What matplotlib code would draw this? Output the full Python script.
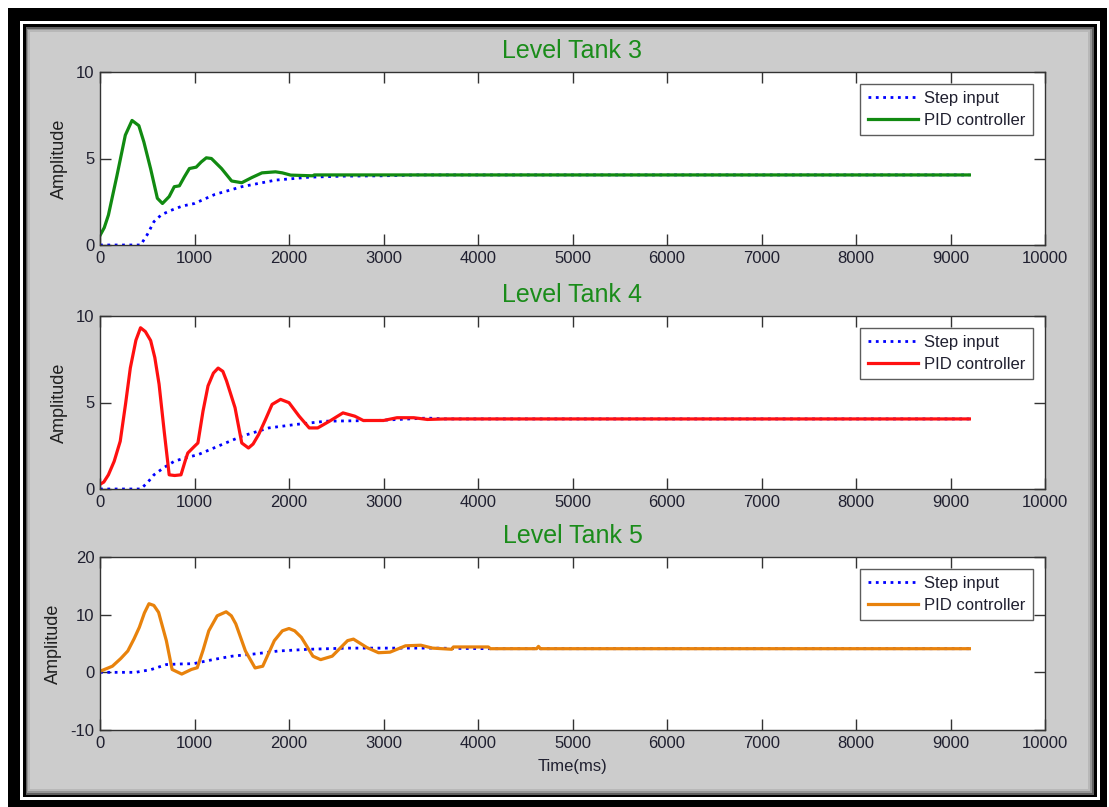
import matplotlib
matplotlib.use('Agg')
import matplotlib.pyplot as plt
from matplotlib.patches import Rectangle
from matplotlib import font_manager

# Level Tank 3 (green)
t3_time = [0, 45, 89, 179, 268, 339, 411, 464, 536, 607, 661, 732, 786, 840, 893, 946, 1018, 1071,
           1125, 1179, 1286, 1393, 1500, 1607, 1714, 1857, 1929, 2018, 2250, 2268, 9200]
t3_pid = [0.55, 1.0, 1.73, 4.0, 6.35, 7.2, 6.9, 5.96, 4.4, 2.7, 2.4, 2.8, 3.37, 3.42, 3.94, 4.42, 4.5, 4.8,
          5.04, 5.0, 4.42, 3.7, 3.6, 3.9, 4.17, 4.23, 4.17, 4.04, 4.0, 4.05, 4.05]
t3_step_time = [0, 430, 500, 571, 650, 750, 870, 1000, 1214, 1500, 1857, 2214, 2571, 3000, 3350, 9200]
t3_step = [0, 0, 0.6, 1.35, 1.75, 2.0, 2.25, 2.4, 2.92, 3.37, 3.75, 3.92, 3.98, 4.0, 4.05, 4.05]

# Level Tank 4 (red)
t4_time = [0, 40, 89, 150, 214, 270, 321, 380, 429, 480, 536, 580, 625, 680, 732, 790, 857, 900, 929, 1000,
           1036, 1090, 1143, 1200, 1250, 1300, 1339, 1429, 1500, 1571, 1620, 1679, 1750, 1821, 1911, 2000,
           2107, 2214, 2304, 2429, 2571, 2696, 2786, 3000, 3143, 3321, 3464, 3650, 9200]
t4_pid = [0.27, 0.4, 0.82, 1.6, 2.76, 4.9, 7.0, 8.6, 9.32, 9.1, 8.58, 7.6, 6.06, 3.3, 0.82, 0.78, 0.82, 1.6,
          2.08, 2.47, 2.66, 4.5, 5.96, 6.7, 6.99, 6.8, 6.25, 4.7, 2.66, 2.37, 2.6, 3.15, 4.0, 4.89, 5.18, 4.99,
          4.21, 3.53, 3.53, 3.92, 4.4, 4.21, 3.96, 3.96, 4.12, 4.12, 4.02, 4.05, 4.05]
t4_step_time = [0, 429, 500, 571, 680, 786, 900, 1036, 1286, 1500, 1786, 2071, 2393, 2929, 3464, 3650, 9200]
t4_step = [0, 0, 0.35, 0.82, 1.25, 1.6, 1.8, 1.98, 2.56, 3.05, 3.53, 3.73, 3.92, 3.96, 4.1, 4.05, 4.05]

# Level Tank 5 (orange)
t5_time = [0, 131, 220, 294, 360, 416, 470, 518, 570, 620, 702, 763, 865, 967, 1029, 1090, 1151, 1240,
           1335, 1390, 1437, 1539, 1641, 1722, 1845, 1930, 2000, 2060, 2131, 2253, 2335, 2457, 2620, 2682,
           2824, 2947, 3069, 3233, 3396, 3518, 3722, 3740, 4110, 4130, 4620, 4640, 4660, 9200]
t5_pid = [0.18, 1.06, 2.4, 3.7, 5.8, 7.8, 10.3, 11.9, 11.6, 10.4, 5.5, 0.5, -0.3, 0.5, 0.8, 3.8, 7.2, 9.8,
          10.5, 9.8, 8.4, 3.7, 0.76, 1.06, 5.5, 7.2, 7.6, 7.2, 6.06, 2.8, 2.2, 2.8, 5.5, 5.76,
          4.3, 3.4, 3.5, 4.6, 4.7, 4.2, 4.0, 4.4, 4.4, 4.1, 4.1, 4.5, 4.1, 4.1]
t5_step_time = [0, 376, 539, 702, 850, 988, 1192, 1396, 1641, 1886, 2212, 2620, 3500, 4130, 9200]
t5_step = [0, 0, 0.47, 1.35, 1.45, 1.5, 2.2, 2.8, 3.2, 3.7, 4.0, 4.2, 4.2, 4.1, 4.1]

titles = ['Level Tank 3', 'Level Tank 4', 'Level Tank 5']
pid_colors = ['#118a11', '#ff1010', '#e8820c']
y_ticks = [[0, 5, 10], [0, 5, 10], [-10, 0, 10, 20]]
x_ticks = list(range(0, 10001, 1000))

names = {f.name for f in font_manager.fontManager.ttflist}
fam = 'Liberation Sans' if 'Liberation Sans' in names else 'DejaVu Sans'
plt.rcParams['font.family'] = [fam, 'DejaVu Sans']
plt.rcParams['axes.unicode_minus'] = False

W, H = 1109, 807
fig = plt.figure(figsize=(W / 100, H / 100), dpi=100, facecolor='white')


def px_rect(x0, y0, x1, y1, color):
    # пиксели сверху-вниз -> доли фигуры
    fig.patches.append(Rectangle((x0 / W, 1 - y1 / H), (x1 - x0) / W, (y1 - y0) / H,
                                 transform=fig.transFigure, facecolor=color, edgecolor='none', zorder=-5))


# рамка вокруг картинки
px_rect(8, 8, 1107, 807, 'black')
px_rect(20, 21, 1100, 800, 'white')
px_rect(23, 24, 1097, 797, 'black')
px_rect(26, 27, 1094, 795, '#606060')
px_rect(27, 29, 1092, 793, '#959595')
px_rect(28, 30, 1090, 791, '#b8b8b8')
px_rect(30, 32, 1088, 789, '#cccccc')

data = [(t3_time, t3_pid, t3_step_time, t3_step),
        (t4_time, t4_pid, t4_step_time, t4_step),
        (t5_time, t5_pid, t5_step_time, t5_step)]
tops = [72, 316, 557]
ax_h = 173

for i, (tt, pid, st, sv) in enumerate(data):
    ax = fig.add_axes([100 / W, 1 - (tops[i] + ax_h) / H, 945 / W, ax_h / H])
    ax.set_facecolor('white')
    ax.plot(st, sv, color='#0000ff', linestyle=':', linewidth=2.0, label='Step input')
    ax.plot(tt, pid, color=pid_colors[i], linewidth=2.3, label='PID controller')
    ax.set_xlim(0, 10000)
    ax.set_ylim(y_ticks[i][0], y_ticks[i][-1])
    ax.set_xticks(x_ticks)
    ax.set_yticks(y_ticks[i])
    ax.tick_params(direction='in', top=True, right=True, length=8, width=1, color='#333333',
                   labelsize=12, labelcolor='#202030', pad=4)
    for s in ax.spines.values():
        s.set_color('#333333')
        s.set_linewidth(1)
    ax.set_title(titles[i], color='#1a8c1a', fontsize=18, pad=10)
    ax.set_ylabel('Amplitude', fontsize=13, color='#202020', labelpad=6)
    leg = ax.legend(loc='upper right', fontsize=12, frameon=True, fancybox=False, handlelength=3,
                    borderaxespad=0.7, labelspacing=0.4, handletextpad=0.4, borderpad=0.45)
    leg.get_frame().set_edgecolor('#333333')
    leg.get_frame().set_linewidth(1)
    for t in leg.get_texts():
        t.set_color('#202030')
    if i == 2:
        ax.set_xlabel('Time(ms)', fontsize=12, color='#202030', labelpad=6)

fig.savefig('out.png', dpi=100, facecolor=fig.get_facecolor())
